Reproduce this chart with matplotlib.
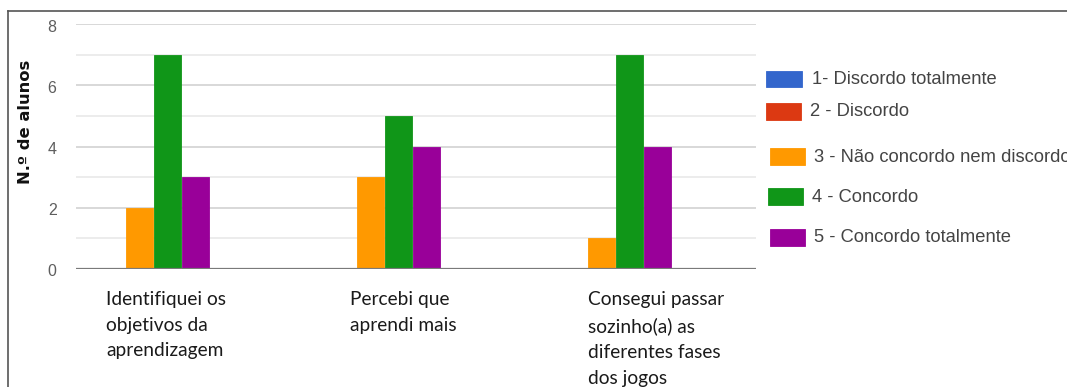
import matplotlib
matplotlib.use("Agg")
import matplotlib.pyplot as plt
from matplotlib.patches import Rectangle
from matplotlib.lines import Line2D
from matplotlib.transforms import blended_transform_factory, ScaledTranslation
import numpy as np

# Survey answers per statement
categories = [
    "Identifiquei os\nobjetivos da\naprendizagem",
    "Percebi que\naprendi mais",
    "Consegui passar\nsozinho(a) as\ndiferentes fases\ndos jogos",
]
series_names = [
    "1- Discordo totalmente",
    "2 - Discordo",
    "3 - Não concordo nem discordo",
    "4 - Concordo",
    "5 - Concordo totalmente",
]
discordo_totalmente = [0, 0, 0]
discordo = [0, 0, 0]
nem_nem = [2, 3, 1]
concordo = [7, 5, 7]
concordo_totalmente = [3, 4, 4]
series_values = [discordo_totalmente, discordo, nem_nem, concordo, concordo_totalmente]
series_colors = ["#3366cc", "#dc3912", "#ff9900", "#109618", "#990099"]
y_ticks = [0, 2, 4, 6, 8]
y_label = "N.º de alunos"

W, H = 1067, 387
fig = plt.figure(figsize=(W / 100, H / 100), dpi=100)
fig.patch.set_facecolor("white")

def fx(px):
    return px / W

def fy(py):
    return 1 - py / H

ax = fig.add_axes([fx(76), fy(269), fx(756) - fx(76), fy(24) - fy(269)])

x = np.arange(len(categories))
step = 0.1212
bar_w = 0.117
for k, (vals, col) in enumerate(zip(series_values, series_colors)):
    ax.bar(x + (k - 2) * step, vals, width=bar_w, color=col,
           edgecolor=col, linewidth=0.6, zorder=3)

ax.set_xlim(-0.277, 2.667)
ax.set_ylim(0, 8)

# horizontal grid: even values slightly darker
for v in range(1, 9):
    ax.axhline(v, color="#d6d6d6" if v % 2 == 0 else "#ebebeb", lw=1.3, zorder=1)
ax.axhline(0, color="#7a7a7a", lw=1.6, zorder=4)

for s in ax.spines.values():
    s.set_visible(False)
ax.set_xticks([])
ax.set_yticks(y_ticks)
ax.set_yticklabels([str(t) for t in y_ticks], fontsize=11.5, color="#5e5e5e",
                   family="Liberation Sans")
ax.tick_params(axis="y", length=0, pad=14)
nudge = ScaledTranslation(0, -0.015, fig.dpi_scale_trans)
for lbl in ax.get_yticklabels():
    lbl.set_transform(lbl.get_transform() + nudge)

fig.text(fx(26), fy(122), y_label, rotation=90, ha="center", va="center",
         fontsize=11.8, fontweight="bold", family=["DejaVu Sans"],
         color="#111111")

# category labels, left aligned below each group
label_offsets = [-0.147, -0.091, -0.061]
trans = blended_transform_factory(ax.transData, fig.transFigure)
for i, (cat, off) in enumerate(zip(categories, label_offsets)):
    ax.text(i + off, fy(291), cat, transform=trans,
            ha="left", va="top", fontsize=13.8, family="Lato", color="#1a1a1a",
            linespacing=1.62)

# legend
patch_boxes = [(766, 71, 802, 87), (766, 103, 801, 120), (770, 148, 805, 165),
               (768, 188, 803, 205), (770, 229, 805, 246)]
text_pos = [(812, 79), (810, 112), (814, 157), (812, 197), (814, 238)]
for name, col, box, tp in zip(series_names, series_colors, patch_boxes, text_pos):
    x0, y0, x1, y1 = box
    fig.add_artist(Rectangle((fx(x0), fy(y1)), fx(x1) - fx(x0), fy(y0) - fy(y1),
                             transform=fig.transFigure, facecolor=col,
                             edgecolor=col, lw=0.6))
    fig.text(fx(tp[0]), fy(tp[1]), name, ha="left", va="center", fontsize=13.2,
             family="Liberation Sans", color="#444444")

# outer frame
fig.add_artist(Line2D([fx(8), 1], [fy(11), fy(11)], transform=fig.transFigure,
                      color="#555555", lw=1.2))
fig.add_artist(Line2D([fx(8), fx(8)], [0, fy(11)], transform=fig.transFigure,
                      color="#555555", lw=1.2))

fig.savefig("out.png", dpi=100, facecolor="white")
